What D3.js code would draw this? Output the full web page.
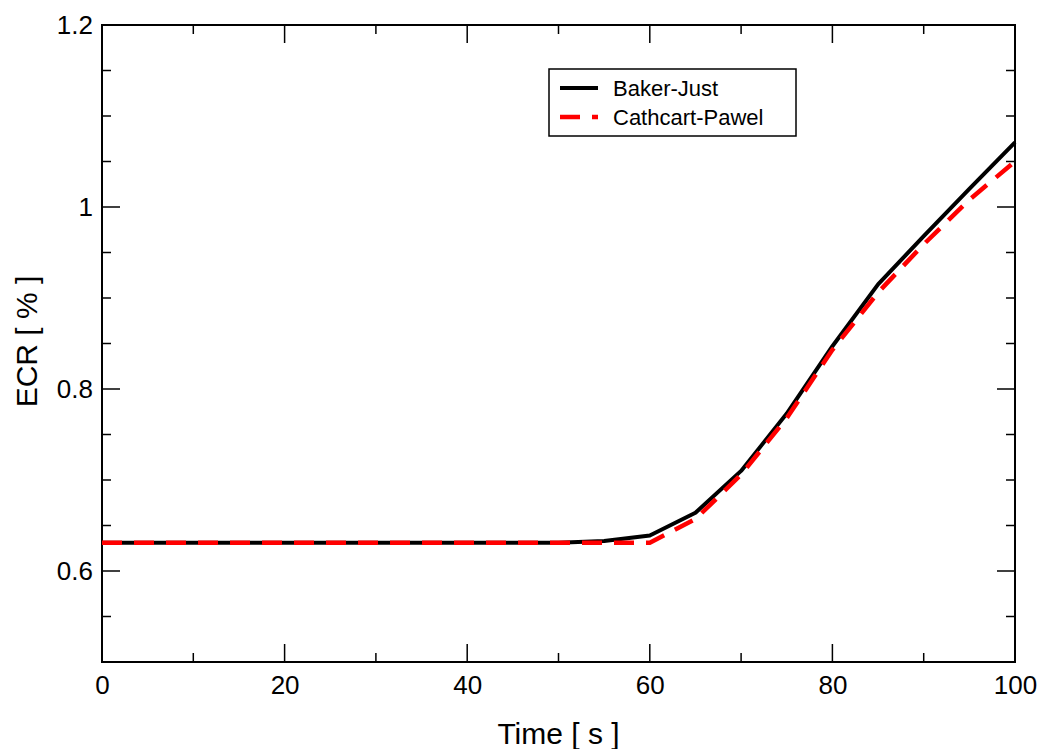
<!DOCTYPE html>
<html>
<head>
<meta charset="utf-8">
<script src="https://cdn.jsdelivr.net/npm/d3@7"></script>
<style>
  body { margin: 0; background: #fff; }
  svg { font-family: "Liberation Sans", Arial, Helvetica, sans-serif; }
</style>
</head>
<body>
<script>

var times = [0, 5, 10, 15, 20, 25, 30, 35, 40, 45, 50, 55, 60, 65, 70, 75, 80, 85, 90, 95, 100];
var bakerJust = [0.631, 0.631, 0.631, 0.631, 0.631, 0.631, 0.631, 0.631, 0.631, 0.631, 0.631, 0.633, 0.639, 0.664, 0.710, 0.773, 0.847, 0.915, 0.968, 1.020, 1.071];
var cathcartPawel = [0.631, 0.631, 0.631, 0.631, 0.631, 0.631, 0.631, 0.631, 0.631, 0.631, 0.631, 0.631, 0.631, 0.657, 0.706, 0.768, 0.843, 0.906, 0.959, 1.008, 1.050];
var xTicks = [0, 20, 40, 60, 80, 100];
var yTicks = [0.6, 0.8, 1, 1.2];
var seriesNames = ["Baker-Just", "Cathcart-Pawel"];

var W = 1045, H = 749;
var margin = {left: 102, right: 30, top: 25, bottom: 87};
var width = W - margin.left - margin.right;
var height = H - margin.top - margin.bottom;

var x = d3.scaleLinear().domain([0, 100]).range([0, width]);
var y = d3.scaleLinear().domain([0.5, 1.2]).range([height, 0]);

var svg = d3.select("body").append("svg").attr("width", W).attr("height", H);
var g = svg.append("g").attr("transform", "translate(" + margin.left + "," + margin.top + ")");

// minor + major ticks, all pointing inward on all four sides
var xMinor = d3.range(0, 101, 10);
var yMinor = d3.range(0.5, 1.2001, 0.05);
function isMajorX(d) { return Math.abs(d % 20) < 1e-6; }
function isMajorY(d) { return yTicks.some(function(t){ return Math.abs(t - d) < 1e-6; }); }

var ticks = g.append("g").attr("stroke", "#000").attr("stroke-width", 1.5);
xMinor.forEach(function(d) {
  var len = isMajorX(d) ? 18 : 9;
  ticks.append("line").attr("x1", x(d)).attr("x2", x(d)).attr("y1", height).attr("y2", height - len);
  ticks.append("line").attr("x1", x(d)).attr("x2", x(d)).attr("y1", 0).attr("y2", len);
});
yMinor.forEach(function(d) {
  var len = isMajorY(d) ? 18 : 9;
  ticks.append("line").attr("y1", y(d)).attr("y2", y(d)).attr("x1", 0).attr("x2", len);
  ticks.append("line").attr("y1", y(d)).attr("y2", y(d)).attr("x1", width).attr("x2", width - len);
});

g.append("rect")
  .attr("width", width).attr("height", height)
  .attr("fill", "none").attr("stroke", "#000").attr("stroke-width", 2);

// tick labels
var xAxis = d3.axisBottom(x).tickValues(xTicks).tickSize(0).tickPadding(14).tickFormat(d3.format("d"));
var yAxis = d3.axisLeft(y).tickValues(yTicks).tickSize(0).tickPadding(9).tickFormat(function(d){ return d === 1 ? "1" : d3.format(".1f")(d); });

var gx = g.append("g").attr("transform", "translate(0," + height + ")").call(xAxis);
var gy = g.append("g").call(yAxis);
[gx, gy].forEach(function(a) {
  a.select(".domain").remove();
  a.selectAll("text").attr("font-size", 26).attr("fill", "#000").attr("font-family", "Liberation Sans, Arial, sans-serif");
});

g.append("text")
  .attr("x", width / 2).attr("y", height + 82)
  .attr("text-anchor", "middle").attr("font-size", 30)
  .text("Time [ s ]");

g.append("text")
  .attr("transform", "translate(" + (37 - margin.left) + "," + (height / 2 - 2) + ") rotate(-90)")
  .attr("text-anchor", "middle").attr("font-size", 30)
  .text("ECR [ % ]");

var line = d3.line()
  .x(function(d, i) { return x(times[i]); })
  .y(function(d) { return y(d); });

g.append("path")
  .attr("fill", "none").attr("stroke", "#000").attr("stroke-width", 4)
  .attr("stroke-linejoin", "round")
  .attr("d", line(bakerJust));

g.append("path")
  .attr("fill", "none").attr("stroke", "#ff0000").attr("stroke-width", 4.5)
  .attr("stroke-dasharray", "20,12")
  .attr("d", line(cathcartPawel));

// legend
var leg = svg.append("g").attr("transform", "translate(549,69)");
leg.append("rect").attr("width", 247).attr("height", 67)
  .attr("fill", "#fff").attr("stroke", "#000").attr("stroke-width", 1.5);
var legStyles = [
  {stroke: "#000", dash: null, w: 4},
  {stroke: "#ff0000", dash: "20,12", w: 4.5}
];
seriesNames.forEach(function(name, i) {
  var cy = 19 + i * 29;
  leg.append("line").attr("x1", 11).attr("x2", 49).attr("y1", cy).attr("y2", cy)
    .attr("stroke", legStyles[i].stroke).attr("stroke-width", legStyles[i].w)
    .attr("stroke-dasharray", legStyles[i].dash);
  leg.append("text").attr("x", 64).attr("y", cy + 8).attr("font-size", 22).text(name);
});

</script>
</body>
</html>
